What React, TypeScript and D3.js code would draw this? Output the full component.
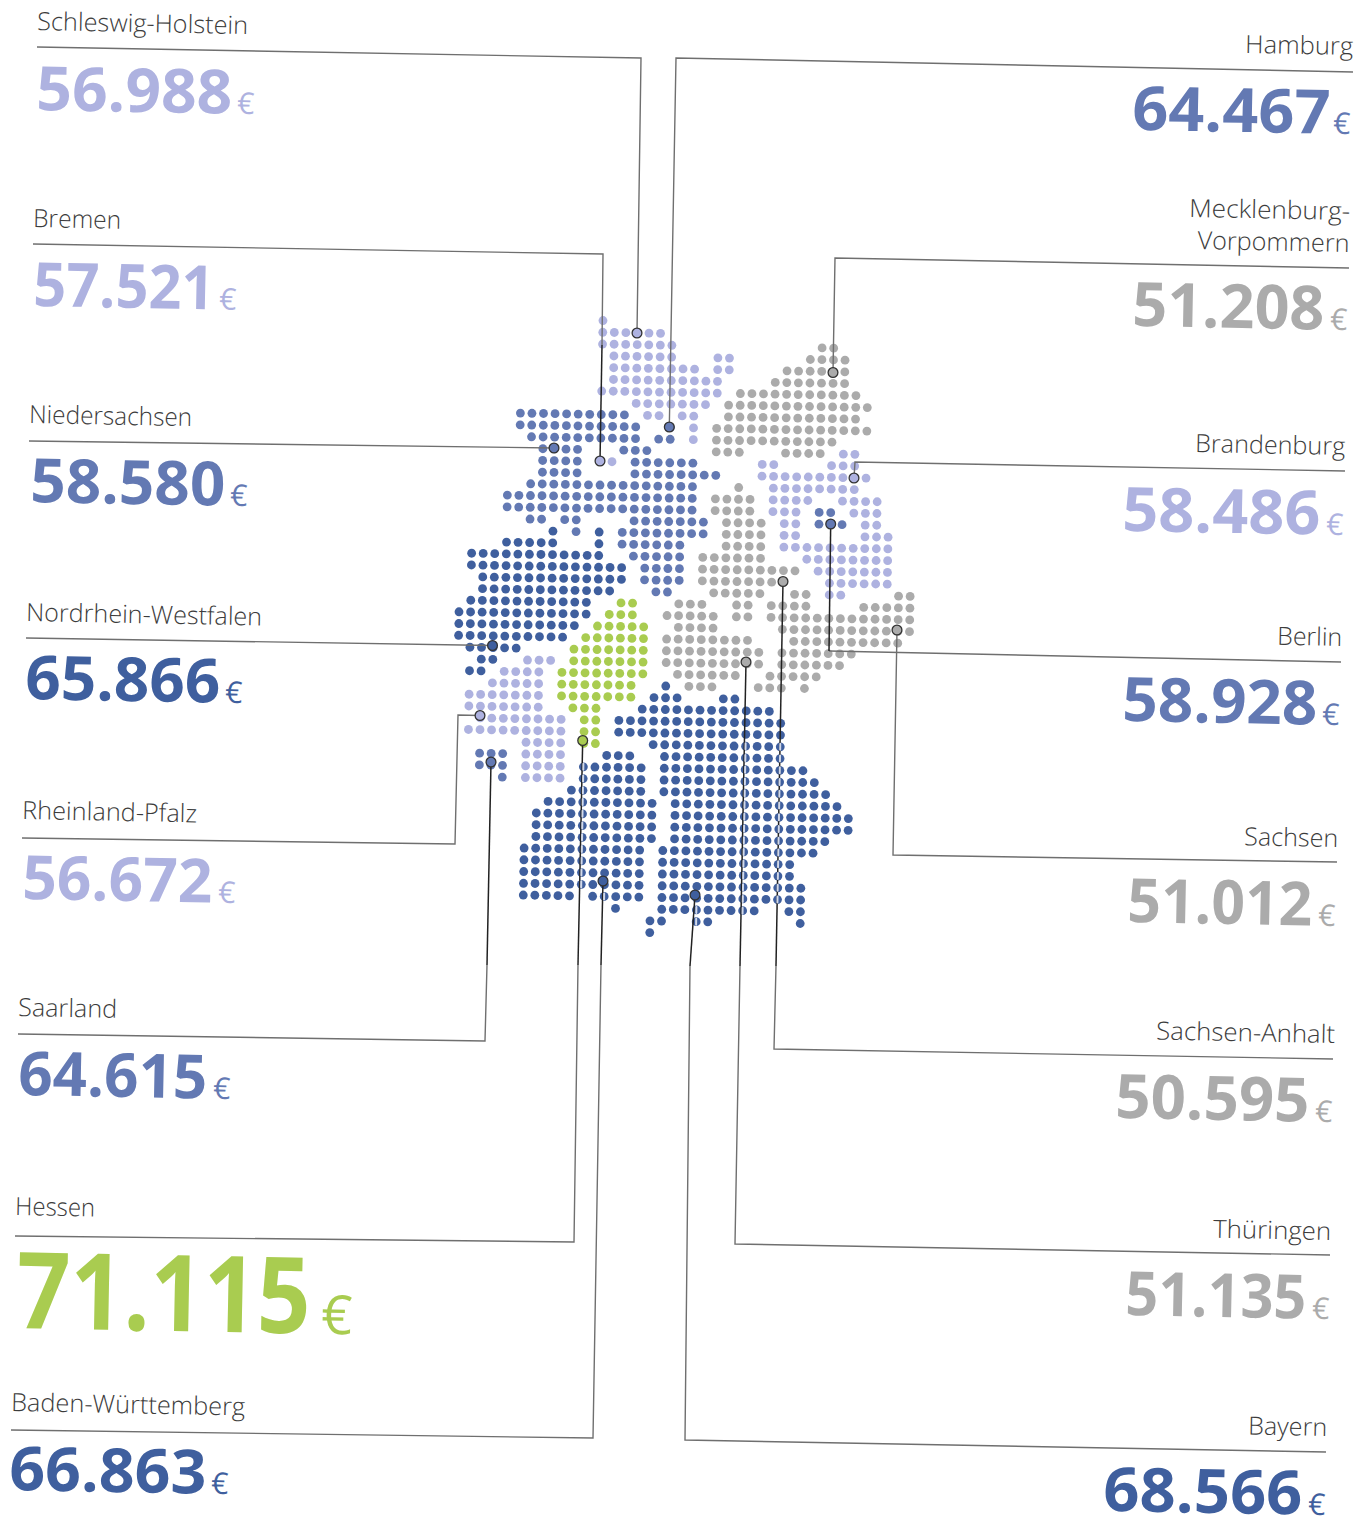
import React from "react";
import * as d3 from "d3";

const W = 1367, H = 1517;

// Dot matrix of the map: [row, firstColumn, lastColumn], grouped by income tier.
const darkRuns: number[][] = [
  [18,-4,-4],[18,0,0],[19,-8,-4],[19,0,0],[20,-11,0],[21,-11,2],[22,-10,2],[23,-10,1],[24,-11,-1],[25,-12,-1],
  [26,-12,-2],[27,-12,-3],[28,-11,-7],[29,-10,-9],[30,-11,-10],
  [31,6,6],[32,5,7],[32,11,12],[33,4,15],[34,2,16],[35,2,16],[36,5,16],
  [37,1,3],[37,6,16],[38,-1,4],[38,6,18],[39,-1,4],[39,6,19],[40,-2,4],[40,6,20],
  [41,-4,5],[41,7,21],[42,-5,5],[42,7,22],[43,-5,5],[43,7,22],[44,-5,5],[44,7,20],
  [45,-6,4],[45,6,19],[46,-6,4],[46,6,17],[47,-6,4],[47,6,17],[48,-6,4],[48,6,18],
  [49,-6,-2],[49,0,4],[49,6,18],[50,2,2],[50,6,14],[50,17,18],[51,5,6],[51,9,10],[51,18,18],[52,5,5],
];
const midRuns: number[][] = [
  [8,-7,2],[9,-7,3],[9,6,6],[10,-6,3],[10,5,6],[11,-5,-2],[11,2,4],[12,-5,-2],[12,3,8],[13,-5,-2],[13,3,10],
  [14,-6,8],[15,-8,8],[16,-8,8],[17,-6,-5],[17,-3,-2],[17,3,9],[18,-2,-2],[18,2,9],[19,2,7],[20,3,7],[21,4,7],[22,4,7],[23,5,6],
  [16,19,20],[17,19,21],[37,-10,-8],[38,-10,-8],[39,-8,-8],
];
const lightRuns: number[][] = [
  [0,0,0],[1,0,5],[2,0,6],[3,1,6],[3,10,11],[4,1,8],[4,10,11],[5,1,10],[6,0,10],[7,3,9],[8,4,5],[8,7,8],[9,8,8],[10,8,8],[12,0,1],
  [11,21,22],[12,14,15],[12,20,22],[13,14,23],[14,15,22],[15,15,18],[15,21,24],[16,15,17],[16,22,24],
  [17,16,17],[17,23,24],[18,16,17],[18,23,25],[19,16,25],[20,18,25],[21,19,25],[22,20,25],[23,20,21],
  [29,-6,-4],[30,-8,-5],[31,-9,-5],[32,-11,-5],[33,-11,-5],[34,-10,-3],[35,-11,-3],[36,-6,-3],[37,-6,-3],[38,-6,-3],[39,-6,-3],
];
const grayRuns: number[][] = [
  [2,19,20],[3,18,21],[4,16,21],[5,15,21],[6,12,22],[7,11,23],[8,11,22],[9,10,23],[10,10,20],[11,10,12],[11,16,19],
  [14,12,12],[15,10,13],[16,10,13],[17,11,14],[18,11,14],[19,11,14],[20,9,14],[21,9,17],[22,9,16],[23,10,14],[23,17,18],[23,26,27],
  [24,7,9],[24,12,13],[24,15,18],[24,23,27],[25,6,10],[25,12,13],[25,15,27],[26,7,10],[26,16,27],[27,6,13],[27,17,26],
  [28,6,14],[28,16,22],[29,6,14],[29,16,21],[30,7,12],[30,15,19],[31,8,10],[31,14,16],[31,18,18],
];
const greenRuns: number[][] = [
  [24,2,3],[25,1,3],[26,0,4],[27,-1,4],[28,-2,4],[29,-2,4],[30,-3,4],[31,-3,3],[32,-3,3],[33,-2,0],[34,-1,0],[35,-1,0],[36,-1,0],
];

const tierColors: Record<string, string> = {
  dark: "#3f5f9e", mid: "#6379b3", light: "#aeb2e0", gray: "#ababab", green: "#a9cc50",
};
const tierRuns: [string, number[][]][] = [
  ["gray", grayRuns], ["light", lightRuns], ["mid", midRuns], ["green", greenRuns], ["dark", darkRuns],
];

// Left-hand states
const leftNames = ["Schleswig-Holstein","Bremen","Niedersachsen","Nordrhein-Westfalen","Rheinland-Pfalz","Saarland","Hessen","Baden-Württemberg"];
const leftValues = ["56.988","57.521","58.580","65.866","56.672","64.615","71.115","66.863"];
const leftTiers = ["light","light","mid","dark","light","mid","green","dark"];
const leftNameX = [37,33,29,26,22,18,15,11];
const leftNameY = [30,227,423,621,819,1016,1215,1411];
const leftValueY = [110,306,502,699,899,1095,1328,1490];
const leftValueSpan = [[38,230],[35,212],[32,223],[27,218],[24,210],[20,205],[18,308],[11,204]];
const leftEuroX = [237,219,230,225,218,213,321,211];

// Right-hand states
const rightNames = ["Hamburg","Mecklenburg-|Vorpommern","Brandenburg","Berlin","Sachsen","Sachsen-Anhalt","Thüringen","Bayern"];
const rightValues = ["64.467","51.208","58.486","58.928","51.012","50.595","51.135","68.566"];
const rightTiers = ["mid","gray","light","mid","gray","gray","gray","dark"];
const rightNameX = [1353,1350,1345,1342,1338,1335,1331,1327];
const rightNameY = [55,220,455,646,847,1043,1240,1436];
const rightValueAnchor = [1351,1347,1343,1339,1335,1332,1328,1325];
const rightValueY = [134,330,535,725,926,1122,1319,1515];
const rightValueSpan = [[1134,1328],[1134,1322],[1124,1318],[1124,1315],[1129,1310],[1117,1307],[1127,1304],[1105,1300]];
const rightEuroX = [1333,1330,1326,1322,1318,1315,1312,1308];

// Drawn text widths of the state names
const nameWidths: Record<string, number> = {
  "Schleswig-Holstein": 211, Bremen: 88, Niedersachsen: 163, "Nordrhein-Westfalen": 236, "Rheinland-Pfalz": 175,
  Saarland: 99, Hessen: 80, "Baden-Württemberg": 234, Hamburg: 108, "Mecklenburg-": 161, Vorpommern: 152,
  Brandenburg: 150, Berlin: 65, Sachsen: 94, "Sachsen-Anhalt": 179, "Thüringen": 118, Bayern: 79,
};

// Leaders: polyline through the label rule, then the end on the map marker
type Leader = { points: number[][]; split?: number; marker: string };
const leaders: Leader[] = [
  { points: [[37,47],[641,58],[637,333]], split: 2, marker: "light" },
  { points: [[33,244],[603,254],[602,345],[600,461]], split: 2, marker: "light" },
  { points: [[29,441],[554,448]], split: 1, marker: "mid" },
  { points: [[26,638],[492.5,645.5]], split: 1, marker: "dark" },
  { points: [[22,838],[455,844],[458,715],[480,715.5]], split: 3, marker: "light" },
  { points: [[18,1034],[485,1041],[487,965],[491,762]], split: 2, marker: "mid" },
  { points: [[15,1236],[574,1242],[578,965],[582.7,740.5]], split: 2, marker: "green" },
  { points: [[11,1430],[593,1438],[601,965],[603,881]], split: 2, marker: "dark" },
  { points: [[1353,72],[676,58],[669.3,427]], split: 2, marker: "mid" },
  { points: [[1349,268],[835,258],[833,372.5]], split: 2, marker: "gray" },
  { points: [[1345,471],[855,462],[854,478]], split: 2, marker: "light" },
  { points: [[1341,662],[829,651],[830.7,524]], split: 1, marker: "mid" },
  { points: [[1337,862],[893,855],[897,630]], split: 2, marker: "gray" },
  { points: [[1333,1059],[774,1049],[776,966],[783,581.5]], split: 2, marker: "gray" },
  { points: [[1330,1255],[735,1244],[740,966],[746,662]], split: 2, marker: "gray" },
  { points: [[1326,1452],[685,1440],[690,966],[695,895]], split: 2, marker: "dark" },
];

// Leaders crossing dark dots leave a pale stroke on them: [column, firstRow, lastRow]
const crossedColumns: number[][] = [[-1,38,48],[1,49,49],[9,50,51],[13,36,50],[16,36,49]];

const colScale = d3.scaleLinear().domain([-12, 27]).range([464.3, 915]);
const rowScale = d3.scaleLinear().domain([0, 52]).range([320.5, 931.5]);
const SLOPE = 0.018;
const dotX = (c: number, r: number) => colScale(c) - SLOPE * (rowScale(r) - 320.5);
const dotY = (c: number, r: number) => rowScale(r) + SLOPE * (colScale(c) - 602);

const line = d3.line();
const UI = "'Open Sans', 'Noto Sans', sans-serif";
const TILT = 1.1;

function expand(runs: number[][]) {
  return runs.flatMap(([r, a, b]) => d3.range(a, b + 1).map((c) => [c, r]));
}

export default function App() {
  const labels = [
    ...leftNames.map((n, i) => ({ n, v: leftValues[i], t: leftTiers[i], nx: leftNameX[i], ny: leftNameY[i], ax: leftValueSpan[i][0], vy: leftValueY[i], span: leftValueSpan[i], ex: leftEuroX[i], anchor: "start" })),
    ...rightNames.map((n, i) => ({ n, v: rightValues[i], t: rightTiers[i], nx: rightNameX[i], ny: rightNameY[i], ax: rightValueAnchor[i], vy: rightValueY[i], span: rightValueSpan[i], ex: rightEuroX[i], anchor: "end" })),
  ];
  return (
    <svg width={W} height={H} viewBox={`0 0 ${W} ${H}`} style={{ position: "absolute", left: 0, top: 0, background: "#fff", display: "block" }}>
      {tierRuns.map(([tier, runs]) => (
        <g key={tier} fill={tierColors[tier]}>
          {expand(runs).map(([c, r]) => (
            <circle key={`${c}:${r}`} cx={dotX(c, r)} cy={dotY(c, r)} r={4.4} />
          ))}
        </g>
      ))}
      {leaders.map((l, i) => {
        const s = l.split ?? l.points.length - 1;
        const head = l.points.slice(0, s + 1) as [number, number][];
        const tail = l.points.slice(s) as [number, number][];
        return (
          <g key={i} fill="none">
            <path d={line(head) ?? ""} stroke="#6f6f6f" strokeWidth={1.4} />
            <path d={line(tail) ?? ""} stroke="#222" strokeWidth={1.5} />
          </g>
        );
      })}
      <g stroke="#d3daea" strokeWidth={2} strokeLinecap="round">
        {crossedColumns.flatMap(([c, a, b]) =>
          d3.range(a, b + 1).map((r) => (
            <line key={`${c}:${r}`} x1={dotX(c, r)} x2={dotX(c, r) - 0.1} y1={dotY(c, r) - 3} y2={dotY(c, r) + 3} />
          ))
        )}
      </g>
      {leaders.map((l, i) => {
        const [x, y] = l.points[l.points.length - 1];
        return <circle key={i} cx={x} cy={y} r={4.9} fill={tierColors[l.marker]} stroke="#333" strokeWidth={1.3} />;
      })}
      {labels.map((d) => {
        const big = d.v === "71.115";
        const parts = d.n.split("|");
        return (
          <g key={d.n} fontFamily={UI}>
            <g transform={`rotate(${TILT} ${d.nx} ${d.ny})`}>
              {parts.map((p, k) => (
                <text key={p} x={d.nx} y={d.ny + k * 32} textAnchor={d.anchor} fontSize={25} fontWeight={300} fill="#3c3c3c"
                  textLength={nameWidths[p]} lengthAdjust="spacingAndGlyphs">
                  {p}
                </text>
              ))}
            </g>
            <g transform={`rotate(${TILT} ${d.ax} ${d.vy})`} fill={tierColors[d.t]}>
              <text x={d.span[0] - 2} y={d.vy} fontSize={big ? 106 : 61} fontWeight={700}
                textLength={d.span[1] - d.span[0] + 4} lengthAdjust="spacingAndGlyphs">
                {d.v}
              </text>
              <text x={d.ex} y={d.vy} fontSize={big ? 54 : 30} fontWeight={400}>€</text>
            </g>
          </g>
        );
      })}
    </svg>
  );
}
